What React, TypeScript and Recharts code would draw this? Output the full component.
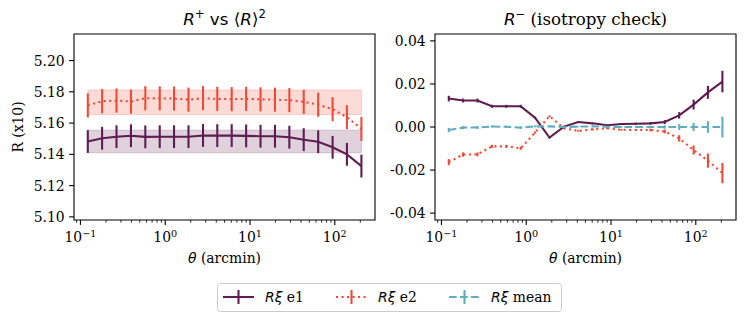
import { ErrorBar, Line, LineChart, ReferenceArea, XAxis, YAxis } from "recharts";

const theta = [0.122, 0.18, 0.266, 0.394, 0.582, 0.861, 1.27, 1.88, 2.79, 4.11, 6.08, 9.0, 13.3, 19.7, 29.1, 43.0, 63.7, 94.2, 139, 206];

// R+ panel (x10)
const plusE1 = [5.1482, 5.1503, 5.1513, 5.1519, 5.1512, 5.1513, 5.1513, 5.1513, 5.1521, 5.152, 5.152, 5.1518, 5.1516, 5.1516, 5.151, 5.1494, 5.1481, 5.1445, 5.14, 5.1325];
const plusE1Err = [0.0073, 0.0073, 0.0073, 0.0073, 0.0073, 0.0073, 0.0073, 0.0073, 0.0073, 0.0073, 0.0073, 0.0073, 0.0073, 0.0073, 0.0073, 0.0073, 0.0073, 0.0073, 0.0073, 0.0073];
const plusE2 = [5.1713, 5.174, 5.1744, 5.1738, 5.1759, 5.1758, 5.1757, 5.175, 5.1759, 5.1755, 5.1753, 5.1755, 5.1752, 5.175, 5.1747, 5.1736, 5.1718, 5.1689, 5.1638, 5.1563];
const plusE2Err = [0.0077, 0.0077, 0.0077, 0.0077, 0.0077, 0.0077, 0.0077, 0.0077, 0.0077, 0.0077, 0.0077, 0.0077, 0.0077, 0.0077, 0.0077, 0.0077, 0.0077, 0.0077, 0.0077, 0.0077];
const e1Band = [5.141, 5.1555];
const e2Band = [5.1655, 5.1812];

// R- panel
const minusE1 = [0.0132, 0.0123, 0.0123, 0.0096, 0.0096, 0.0096, 0.0043, -0.0049, 0.0002, 0.0023, 0.0017, 0.0008, 0.0014, 0.0015, 0.0017, 0.0023, 0.0054, 0.0104, 0.0161, 0.0211];
const minusE1Err = [0.0013, 0.0009, 0.0009, 0.0007, 0.0007, 0.0007, 0.0005, 0.0004, 0.0004, 0.0004, 0.0004, 0.0004, 0.0004, 0.0005, 0.0006, 0.0009, 0.0015, 0.0023, 0.003, 0.005];
const minusE2 = [-0.0163, -0.0128, -0.0127, -0.009, -0.009, -0.0099, -0.0026, 0.005, -0.0006, -0.0018, -0.0011, -0.0006, -0.0013, -0.0014, -0.0014, -0.0021, -0.0053, -0.0107, -0.0156, -0.0214];
const minusE2Err = [0.0014, 0.001, 0.0009, 0.0007, 0.0007, 0.0007, 0.0005, 0.0004, 0.0004, 0.0004, 0.0004, 0.0004, 0.0004, 0.0005, 0.0006, 0.0009, 0.0015, 0.0021, 0.0033, 0.0047];
const minusMean = [-0.0014, -0.0003, -0.0002, 0.0002, 0.0001, -0.0003, 0.0003, 0.0003, 0.0, 0.0002, 0.0003, 0.0001, 0.0, 0.0, 0.0, 0.0, 0.0, 0.0, 0.0, 0.0];
const minusMeanErr = [0.001, 0.0007, 0.0007, 0.0005, 0.0005, 0.0005, 0.0004, 0.0003, 0.0003, 0.0003, 0.0003, 0.0003, 0.0003, 0.0004, 0.0005, 0.0008, 0.0013, 0.0019, 0.0027, 0.0048];

const xTicks = [0.09, 0.1, 0.2, 0.3, 0.4, 0.5, 0.6, 0.7, 0.8, 0.9, 1, 2, 3, 4, 5, 6, 7, 8, 9, 10, 20, 30, 40, 50, 60, 70, 80, 90, 100, 200];
const plusTicks = [5.1, 5.12, 5.14, 5.16, 5.18, 5.2];
const minusTicks = [-0.04, -0.02, 0, 0.02, 0.04];

const xDomain = [0.0839, 298];
const plusDomain = [5.098, 5.217];
const minusDomain = [-0.0432, 0.0432];

const PURPLE = "#5e1c50";
const RED = "#ef4a35";
const CYAN = "#5fadbe";
const SERIF = "'DejaVu Serif', 'Liberation Serif', serif";
const SANS = "'DejaVu Sans', sans-serif";
const LW = 2.08;
const DOTS = "2.1 3.4";
const DASHES = "7.7 3.3";

const plusData = theta.map((t, i) => ({ theta: t, e1: plusE1[i], e1Err: plusE1Err[i], e2: plusE2[i], e2Err: plusE2Err[i] }));
const minusData = theta.map((t, i) => ({
  theta: t,
  e1: minusE1[i],
  e1Err: minusE1Err[i],
  e2: minusE2[i],
  e2Err: minusE2Err[i],
  mean: minusMean[i],
  meanErr: minusMeanErr[i],
}));

function XTick(props: any) {
  const { x, y, payload } = props;
  const lg = Math.log10(payload.value);
  const e = Math.round(lg);
  const major = Math.abs(lg - e) < 1e-6;
  return (
    <g>
      <line x1={x} x2={x} y1={y} y2={y + (major ? 4.9 : 2.8)} stroke="#000" strokeWidth={major ? 1.1 : 0.8} />
      {major && (
        <text x={x} y={y + 22} textAnchor="middle" style={{ fontFamily: SERIF }} fontSize={13.9} fill="#000">
          10
          <tspan dy={-5.5} fontSize={9.7}>
            {e < 0 ? `\u2212${-e}` : `${e}`}
          </tspan>
        </text>
      )}
    </g>
  );
}

function YTick(props: any) {
  const { x, y, payload } = props;
  let s = Number(payload.value).toFixed(2);
  if (s === "-0.00") s = "0.00";
  return (
    <g>
      <line x1={x - 4.9} x2={x} y1={y} y2={y} stroke="#000" strokeWidth={1.1} />
      <text x={x - 9.3} y={y} dy="0.36em" textAnchor="end" style={{ fontFamily: SERIF }} fontSize={13.9} fill="#000">
        {s}
      </text>
    </g>
  );
}

function Frame({ yDomain }: { yDomain: number[] }) {
  return (
    <ReferenceArea
      x1={xDomain[0]}
      x2={xDomain[1]}
      y1={yDomain[0]}
      y2={yDomain[1]}
      fill="none"
      stroke="#000"
      strokeWidth={1.1}
      ifOverflow="visible"
    />
  );
}

function PlusChart() {
  return (
    <LineChart width={390} height={323} data={plusData} margin={{ top: 34, right: 15, bottom: 0, left: 0 }}>
      <XAxis
        dataKey="theta"
        type="number"
        scale="log"
        domain={xDomain}
        allowDataOverflow
        ticks={xTicks}
        interval={0}
        tick={XTick}
        tickLine={false}
        axisLine={false}
        tickSize={0}
        tickMargin={0}
        height={103}
      />
      <YAxis
        type="number"
        domain={plusDomain}
        allowDataOverflow
        ticks={plusTicks}
        interval={0}
        tick={YTick}
        tickLine={false}
        axisLine={false}
        tickSize={0}
        tickMargin={0}
        width={74}
      />
      <ReferenceArea x1={theta[0]} x2={theta[theta.length - 1]} y1={e1Band[0]} y2={e1Band[1]} fill={PURPLE} fillOpacity={0.2} stroke={PURPLE} strokeOpacity={0.2} />
      <ReferenceArea x1={theta[0]} x2={theta[theta.length - 1]} y1={e2Band[0]} y2={e2Band[1]} fill={RED} fillOpacity={0.2} stroke={RED} strokeOpacity={0.2} />
      <Line dataKey="e1" stroke={PURPLE} strokeWidth={LW} dot={false} activeDot={false} isAnimationActive={false}>
        <ErrorBar dataKey="e1Err" width={0} stroke={PURPLE} strokeWidth={LW} direction="y" />
      </Line>
      <Line dataKey="e2" stroke={RED} strokeWidth={LW} strokeDasharray={DOTS} dot={false} activeDot={false} isAnimationActive={false}>
        <ErrorBar dataKey="e2Err" width={0} stroke={RED} strokeWidth={LW} direction="y" />
      </Line>
      {Frame({ yDomain: plusDomain })}
    </LineChart>
  );
}

function MinusChart() {
  return (
    <LineChart width={387} height={323} data={minusData} margin={{ top: 34, right: 11, bottom: 0, left: 0 }}>
      <XAxis
        dataKey="theta"
        type="number"
        scale="log"
        domain={xDomain}
        allowDataOverflow
        ticks={xTicks}
        interval={0}
        tick={XTick}
        tickLine={false}
        axisLine={false}
        tickSize={0}
        tickMargin={0}
        height={103}
      />
      <YAxis
        type="number"
        domain={minusDomain}
        allowDataOverflow
        ticks={minusTicks}
        interval={0}
        tick={YTick}
        tickLine={false}
        axisLine={false}
        tickSize={0}
        tickMargin={0}
        width={75}
      />
      <Line dataKey="e1" stroke={PURPLE} strokeWidth={LW} dot={false} activeDot={false} isAnimationActive={false}>
        <ErrorBar dataKey="e1Err" width={0} stroke={PURPLE} strokeWidth={LW} direction="y" />
      </Line>
      <Line dataKey="e2" stroke={RED} strokeWidth={LW} strokeDasharray={DOTS} dot={false} activeDot={false} isAnimationActive={false}>
        <ErrorBar dataKey="e2Err" width={0} stroke={RED} strokeWidth={LW} direction="y" />
      </Line>
      <Line dataKey="mean" stroke={CYAN} strokeWidth={LW} strokeDasharray={DASHES} dot={false} activeDot={false} isAnimationActive={false}>
        <ErrorBar dataKey="meanErr" width={0} stroke={CYAN} strokeWidth={LW} direction="y" />
      </Line>
      {Frame({ yDomain: minusDomain })}
    </LineChart>
  );
}

function LegendItem({ x, color, dash, label }: { x: number; color: string; dash?: string; label: string }) {
  return (
    <g>
      <line x1={x} x2={x + 31} y1={297} y2={297} stroke={color} strokeWidth={LW} strokeDasharray={dash} />
      <line x1={x + 15.5} x2={x + 15.5} y1={290} y2={304} stroke={color} strokeWidth={LW} />
      <text x={x + 42} y={302} fontSize={13.9} fill="#000">
        <tspan style={{ fontFamily: SANS, fontStyle: "italic" }}>Rξ</tspan>
        <tspan style={{ fontFamily: SERIF }}>{` ${label}`}</tspan>
      </text>
    </g>
  );
}

function Overlay() {
  return (
    <svg width={747} height={323} style={{ position: "absolute", left: 0, top: 0, pointerEvents: "none" }}>
      <text x={224.5} y={25} textAnchor="middle" fontSize={16.7} fill="#000" style={{ fontFamily: SANS }}>
        <tspan fontStyle="italic">R</tspan>
        <tspan dy={-7} fontSize={11.7}>+</tspan>
        <tspan dy={7}> vs ⟨</tspan>
        <tspan fontStyle="italic">R</tspan>
        <tspan>⟩</tspan>
        <tspan dy={-7} fontSize={11.7}>2</tspan>
      </text>
      <text x={585.5} y={25} textAnchor="middle" fontSize={16.7} fill="#000">
        <tspan style={{ fontFamily: SANS, fontStyle: "italic" }}>R</tspan>
        <tspan style={{ fontFamily: SANS }} dy={-7} fontSize={11.7}>−</tspan>
        <tspan style={{ fontFamily: SERIF }} dy={7}> (isotropy check)</tspan>
      </text>
      <text x={224.5} y={263} textAnchor="middle" fontSize={13.9} fill="#000">
        <tspan style={{ fontFamily: SANS, fontStyle: "italic" }}>θ</tspan>
        <tspan style={{ fontFamily: SERIF }}> (arcmin)</tspan>
      </text>
      <text x={585.5} y={263} textAnchor="middle" fontSize={13.9} fill="#000">
        <tspan style={{ fontFamily: SANS, fontStyle: "italic" }}>θ</tspan>
        <tspan style={{ fontFamily: SERIF }}> (arcmin)</tspan>
      </text>
      <text
        x={18}
        y={127}
        transform="rotate(-90 18 127)"
        textAnchor="middle"
        dy="0.36em"
        style={{ fontFamily: SERIF }}
        fontSize={13.9}
        fill="#000"
      >
        R (x10)
      </text>
      <rect x={217.5} y={283.5} width={344} height={28} rx={3} fill="#fff" fillOpacity={0.8} stroke="#cccccc" />
      <LegendItem x={223} color={PURPLE} label="e1" />
      <LegendItem x={336} color={RED} dash={DOTS} label="e2" />
      <LegendItem x={449} color={CYAN} dash={DASHES} label="mean" />
    </svg>
  );
}

export default function App() {
  return (
    <div style={{ position: "absolute", left: 0, top: 0, width: 747, height: 323, background: "#fff" }}>
      <div style={{ position: "absolute", left: 0, top: 0 }}>
        <PlusChart />
      </div>
      <div style={{ position: "absolute", left: 360, top: 0 }}>
        <MinusChart />
      </div>
      <Overlay />
    </div>
  );
}
